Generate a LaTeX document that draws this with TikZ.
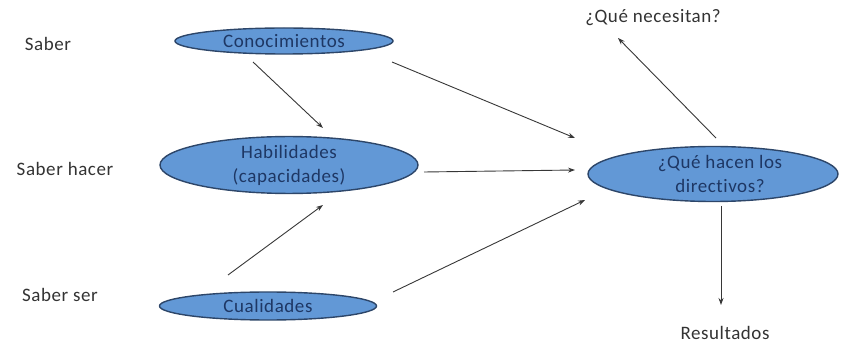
\documentclass[tikz,border=0pt]{standalone}
\usepackage{fontspec}
\setmainfont{Carlito}[Ligatures=NoCommon,LetterSpace=3]
\usetikzlibrary{shapes.geometric,arrows.meta}
\definecolor{ellfill}{RGB}{98,152,214}
\definecolor{elldraw}{RGB}{45,70,105}
\definecolor{elltext}{RGB}{30,55,100}
\definecolor{linecol}{RGB}{55,55,55}
\tikzset{
  ell/.style={ellipse, draw=elldraw, line width=1.4pt, fill=ellfill, inner sep=0pt,
    text=elltext, font=\fontsize{19}{24}\selectfont, align=center},
  lbl/.style={font=\fontsize{19}{22}\selectfont, text=black!80, inner sep=0pt},
  conn/.style={draw=linecol, line width=0.9pt, -{Stealth[length=7pt,width=5pt]}}
}
\begin{document}
\begin{tikzpicture}[x=1pt,y=-1pt]
\useasboundingbox (0,0) rectangle (843,347);
\node[ell, minimum width=218pt, minimum height=26pt] (con) at (284,41) {Conocimientos};
\node[ell, minimum width=258pt, minimum height=54pt] (hab) at (289,165) {Habilidades\\(capacidades)};
\node[ell, minimum width=217pt, minimum height=28pt] (cua) at (268,306) {Cualidades};
\node[ell, minimum width=250pt, minimum height=55pt] (dir) at (713,174) {\hspace*{14pt}¿Qué hacen los\\\hspace*{14pt}directivos?};
\node[lbl] (s1) at (48,44) {Saber};
\node[lbl] (s2) at (65,169) {Saber hacer};
\node[lbl] (s3) at (60,295) {Saber ser};
\node[lbl] (nec) at (653,18) {¿Qué necesitan?};
\node[lbl] (res) at (725,333) {Resultados};
\coordinate (a1) at (253,62); \coordinate (b1) at (323,128);
\coordinate (a2) at (392,62); \coordinate (b2) at (575,138);
\coordinate (a3) at (424,172); \coordinate (b3) at (575,170);
\coordinate (a4) at (228,275); \coordinate (b4) at (323,205);
\coordinate (a5) at (393,292); \coordinate (b5) at (585,200);
\coordinate (a6) at (716,138); \coordinate (b6) at (618,38);
\coordinate (a7) at (721,206); \coordinate (b7) at (721,305);
\draw[conn] (a1) -- (b1);
\draw[conn] (a2) -- (b2);
\draw[conn] (a3) -- (b3);
\draw[conn] (a4) -- (b4);
\draw[conn] (a5) -- (b5);
\draw[conn] (a6) -- (b6);
\draw[conn] (a7) -- (b7);
\end{tikzpicture}
\end{document}
